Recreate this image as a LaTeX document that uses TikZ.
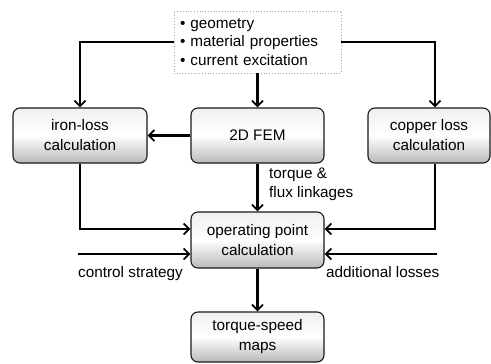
\documentclass[tikz,border=0pt]{standalone}
\usepackage{fontspec}
\setmainfont{Liberation Sans}
\usetikzlibrary{arrows.meta,positioning}
\tikzset{
  boxnode/.style={draw=black!90, line width=1.1pt, rounded corners=7pt,
    top color=gray!12, bottom color=gray!55, middle color=white,
    align=center, inner sep=0pt, font=\fontsize{15.3}{20}\selectfont},
  inbox/.style={draw=gray!70, dotted, line width=0.8pt, fill=white, align=left,
    inner sep=0pt, font=\fontsize{15.3}{18.5}\selectfont},
  arr/.style={line width=2.4pt, -{Straight Barb[length=5.5pt,width=11pt,line width=1.9pt]}},
  lbl/.style={font=\fontsize{15.3}{19}\selectfont, inner sep=0pt, align=left}
}
\begin{document}
\begin{tikzpicture}[x=1pt,y=-1pt]
\useasboundingbox (0,0) rectangle (491,364);
\node[inbox, minimum width=167pt, minimum height=62pt, text width=155pt] (in) at (257.5,42)
  {\textbullet\ geometry\\\textbullet\ material properties\\\textbullet\ current excitation};
\node[boxnode, minimum width=134pt, minimum height=55pt] (iron) at (80,135.5) {iron-loss\\calculation};
\node[boxnode, minimum width=133pt, minimum height=55pt] (fem) at (257.5,135.5) {2D FEM};
\node[boxnode, minimum width=122pt, minimum height=55pt] (cu) at (429,135.5) {copper loss\\calculation};
\node[boxnode, minimum width=133pt, minimum height=56pt] (op) at (257.5,240) {operating point\\calculation};
\node[boxnode, minimum width=133pt, minimum height=50pt] (ts) at (257.5,337) {torque-speed\\maps};
\coordinate (cs) at (78,254);
\coordinate (al) at (437,254);
\draw[arr] (in.west) -| (iron.north);
\draw[arr] (in.east) -| ([xshift=6pt]cu.north);
\draw[arr] (in.south) -- (fem.north);
\draw[arr] (fem.west) -- (iron.east);
\draw[arr] (fem.south) -- (op.north);
\draw[arr] (iron.south) |- ([yshift=11pt]op.west);
\draw[arr] ([xshift=6pt]cu.south) |- ([yshift=11pt]op.east);
\draw[arr] (cs) -- (op.west |- cs);
\draw[arr] (al) -- (op.east |- al);
\draw[arr] (op.south) -- (ts.north);
\node[lbl, anchor=north west] (tq) at (269,168) {torque \&\\flux linkages};
\node[lbl, anchor=north west] (csl) at (78,266) {control strategy};
\node[lbl, anchor=north west] (all) at (326,266) {additional losses};
\end{tikzpicture}
\end{document}
